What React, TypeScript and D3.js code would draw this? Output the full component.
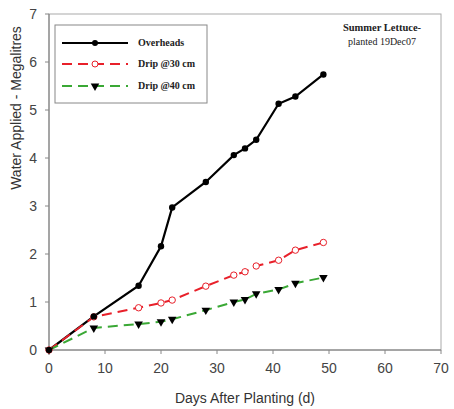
import React from "react";
import * as d3 from "d3";

const days = [0, 8, 16, 20, 22, 28, 33, 35, 37, 41, 44, 49];
const overheads = [0, 0.7, 1.34, 2.16, 2.97, 3.5, 4.06, 4.2, 4.38, 5.13, 5.28, 5.74];
const drip30 = [0, 0.69, 0.88, 0.98, 1.04, 1.33, 1.56, 1.63, 1.75, 1.87, 2.08, 2.24];
const drip40 = [0, 0.46, 0.54, 0.59, 0.64, 0.83, 1.0, 1.05, 1.17, 1.26, 1.39, 1.51];
const xTicks = [0, 10, 20, 30, 40, 50, 60, 70];
const yTicks = [0, 1, 2, 3, 4, 5, 6, 7];
const seriesNames = ["Overheads", "Drip @30 cm", "Drip @40 cm"];

const W = 454, H = 409;
const L = 49, R = 441, T = 14, B = 350;

export default function App() {
  const x = d3.scaleLinear().domain([0, 70]).range([L, R]);
  const y = d3.scaleLinear().domain([0, 7]).range([B, T]);
  const line = d3.line<number>().x((_, i) => x(days[i])).y((v) => y(v));
  const tri = d3.symbol().type(d3.symbolTriangle).size(32)();

  const legendY = [43, 64, 86];
  const legendColors = ["#000", "#e8202a", "#3aa835"];
  const legendDash = [undefined, "10,6", "10,6"];

  return (
    <svg width={W} height={H} style={{ position: "absolute", left: 0, top: 0, background: "#fff" }}>
      <rect x={L} y={T} width={R - L} height={B - T} fill="none" stroke="#aaa" strokeWidth={1} />
      <line x1={L} x2={L} y1={T} y2={B} stroke="#777" />
      <line x1={L} x2={R} y1={B} y2={B} stroke="#777" />
      {xTicks.map((t) => (
        <g key={"x" + t}>
          <line x1={x(t)} x2={x(t)} y1={B} y2={B + 4} stroke="#888" />
          <text x={x(t)} y={B + 23} textAnchor="middle" fontFamily="Liberation Sans, Arial" fontSize={14} fill="#444">{t}</text>
        </g>
      ))}
      {yTicks.map((t) => (
        <g key={"y" + t}>
          <line x1={L - 4} x2={L} y1={y(t)} y2={y(t)} stroke="#888" />
          <text x={L - 12} y={y(t) + 5} textAnchor="end" fontFamily="Liberation Sans, Arial" fontSize={14} fill="#444">{t}</text>
        </g>
      ))}
      <text x={245} y={403} textAnchor="middle" fontFamily="Liberation Sans, Arial" fontSize={14} fill="#333">Days After Planting (d)</text>
      <text transform="translate(21,108) rotate(-90)" textAnchor="middle" fontFamily="Liberation Sans, Arial" fontSize={14} fill="#333">Water Applied - Megalitres</text>

      <path d={line(overheads) || ""} fill="none" stroke="#000" strokeWidth={2.2} />
      <path d={line(drip30) || ""} fill="none" stroke="#e8202a" strokeWidth={2} strokeDasharray="10,6" />
      <path d={line(drip40) || ""} fill="none" stroke="#3aa835" strokeWidth={2} strokeDasharray="10,6" />

      {drip40.map((v, i) => (
        <path key={"d4" + i} d={tri} transform={`translate(${x(days[i])},${y(v)}) rotate(180)`} fill="#000" />
      ))}
      {drip30.map((v, i) => (
        <circle key={"d3" + i} cx={x(days[i])} cy={y(v)} r={3.2} fill="#fff" stroke="#e8202a" strokeWidth={1} />
      ))}
      {overheads.map((v, i) => (
        <circle key={"o" + i} cx={x(days[i])} cy={y(v)} r={3.2} fill="#000" />
      ))}

      <rect x={55} y={25} width={152} height={78} fill="#fff" stroke="#888" strokeWidth={1} />
      {seriesNames.map((n, i) => (
        <g key={n}>
          <line x1={62} x2={128} y1={legendY[i]} y2={legendY[i]} stroke={legendColors[i]} strokeWidth={i === 0 ? 2.2 : 2} strokeDasharray={legendDash[i]} />
          {i === 0 && <circle cx={95} cy={legendY[i]} r={3} fill="#000" />}
          {i === 1 && <circle cx={95} cy={legendY[i]} r={3} fill="#fff" stroke="#e8202a" />}
          {i === 2 && <path d={tri} transform={`translate(95,${legendY[i]}) rotate(180)`} fill="#000" />}
          <text x={138} y={legendY[i] + 3} fontFamily="Liberation Serif, Times New Roman" fontWeight="bold" fontSize={10} fill="#222">{n}</text>
        </g>
      ))}
      <text x={382} y={31} textAnchor="middle" fontFamily="Liberation Serif, Times New Roman" fontWeight="bold" fontSize={10.5} fill="#222">Summer Lettuce-</text>
      <text x={382} y={45} textAnchor="middle" fontFamily="Liberation Serif, Times New Roman" fontSize={10} fill="#222">planted 19Dec07</text>
    </svg>
  );
}
